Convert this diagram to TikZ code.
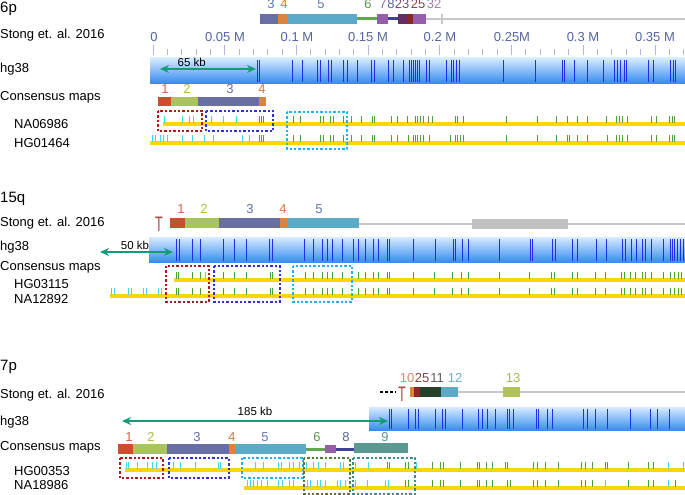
\documentclass[tikz,border=0pt]{standalone}
\usepackage{fontspec}
\setmainfont{Liberation Sans}
\usetikzlibrary{arrows.meta}

\definecolor{segred}{RGB}{200,80,45}
\definecolor{seggreen}{RGB}{168,195,95}
\definecolor{seglime}{RGB}{175,195,90}
\definecolor{segslate}{RGB}{105,110,165}
\definecolor{segorange}{RGB}{225,130,60}
\definecolor{segblue}{RGB}{90,170,200}
\definecolor{segsix}{RGB}{100,165,80}
\definecolor{segpurple}{RGB}{150,95,170}
\definecolor{segnavy}{RGB}{60,65,150}
\definecolor{segteal}{RGB}{90,155,145}
\definecolor{segplum}{RGB}{100,45,100}
\definecolor{segdarkred}{RGB}{140,40,35}
\definecolor{segdark}{RGB}{40,65,45}
\definecolor{seggray}{RGB}{192,192,192}
\definecolor{labone}{RGB}{210,100,75}
\definecolor{labtwo}{RGB}{170,190,70}
\definecolor{labthree}{RGB}{100,110,170}
\definecolor{labfour}{RGB}{220,120,60}
\definecolor{labfive}{RGB}{100,120,180}
\definecolor{labsix}{RGB}{90,150,80}
\definecolor{labseven}{RGB}{140,100,150}
\definecolor{labeight}{RGB}{90,100,150}
\definecolor{labnine}{RGB}{90,150,145}
\definecolor{labten}{RGB}{225,130,110}
\definecolor{labeleven}{RGB}{90,90,90}
\definecolor{labtwelve}{RGB}{110,175,210}
\definecolor{labthirteen}{RGB}{165,185,75}
\definecolor{labtwentythree}{RGB}{120,80,120}
\definecolor{labtwentyfive}{RGB}{130,70,70}
\definecolor{labthirtytwo}{RGB}{160,130,175}
\definecolor{telored}{RGB}{170,70,70}
\definecolor{scaleblue}{RGB}{85,100,160}
\definecolor{scaletickc}{RGB}{180,180,220}
\definecolor{barlight}{RGB}{215,235,255}
\definecolor{bardark}{RGB}{55,140,240}
\definecolor{siteblue}{RGB}{35,45,235}
\definecolor{trackyellow}{RGB}{255,215,0}
\definecolor{tickcyan}{RGB}{70,215,230}
\definecolor{tickgreen}{RGB}{80,160,60}
\definecolor{arrowteal}{RGB}{20,155,120}
\definecolor{backbonegray}{RGB}{200,200,200}
\definecolor{boxred}{RGB}{175,25,25}
\definecolor{boxblue}{RGB}{50,50,210}
\definecolor{boxcyan}{RGB}{30,180,240}
\definecolor{boxgreen}{RGB}{80,125,45}
\definecolor{boxteal}{RGB}{60,140,140}

\begin{document}
\begin{tikzpicture}[x=1pt,y=-1pt]
  \tikzset{>={Stealth[length=9pt,width=8pt]},
    rowlabel/.style={anchor=base west, inner sep=0pt, font=\fontsize{13}{15}\selectfont},
    chrlabel/.style={anchor=base west, inner sep=0pt, font=\fontsize{15}{17}\selectfont},
    seglabel/.style={anchor=base, inner sep=0pt, font=\fontsize{13}{15}\selectfont},
    scalelabel/.style={anchor=base, inner sep=0pt, scaleblue, font=\fontsize{13}{15}\selectfont},
    kblabel/.style={inner sep=1pt, black, font=\fontsize{11.5}{13}\selectfont},
    hgbar/.style={top color=barlight, bottom color=bardark},
    site/.style={siteblue, line width=0.9pt},
    track/.style={trackyellow, line width=3.5pt},
    cyantick/.style={tickcyan, line width=0.9pt},
    greentick/.style={tickgreen, line width=0.9pt},
    scaletick/.style={scaletickc, line width=0.8pt},
    backbone/.style={backbonegray, line width=2pt},
    kbarrow/.style={<->, arrowteal, line width=2.5pt},
    region/.style={line width=2.5pt, dash pattern=on 2.4pt off 2pt},
    telomere/.style={telored, font=\fontsize{21}{21}\selectfont, xscale=0.6, inner sep=0pt, anchor=base}
  }
  \useasboundingbox (0,0) rectangle (685,495);

  % 6p
  \node[chrlabel] (chr-6p) at (0,13) {6p};
  \node[rowlabel] (stong-6p) at (0,39) {Stong et. al. 2016};
  \node[rowlabel] (hg-6p) at (0,72) {hg38};
  \node[rowlabel] (consensus-6p) at (0,100) {Consensus maps};
  \node[rowlabel] (na06986) at (14,128) {NA06986};
  \node[rowlabel] (hg01464) at (14,147) {HG01464};
  % 6p segments from Stong et al
  \draw[backbone] (426,19) -- (685,19);
  \draw[backbone] (442,14) -- (442,24);
  \fill[segslate] (260,14) rectangle (278,24);
  \fill[segorange] (278,14) rectangle (287,24);
  \fill[segblue] (287,14) rectangle (357,24);
  \draw[segsix, line width=3pt] (357,19) -- (377,19);
  \fill[segpurple] (377,14) rectangle (388,24);
  \draw[segnavy, line width=3pt] (388,19) -- (398,19);
  \fill[segplum] (398,14) rectangle (407,24);
  \fill[segdarkred] (407,14) rectangle (413,24);
  \fill[segpurple] (413,14) rectangle (426,24);
  \node[seglabel, labthree] (s6-3) at (271,9) {3};
  \node[seglabel, labfour] (s6-4) at (284,9) {4};
  \node[seglabel, labfive] (s6-5) at (321,9) {5};
  \node[seglabel, labsix] (s6-6) at (368,9) {6};
  \node[seglabel, labseven] (s6-7) at (383,9) {7};
  \node[seglabel, labeight] (s6-8) at (391,9) {8};
  \node[seglabel, labtwentythree] (s6-23) at (402,9) {23};
  \node[seglabel, labtwentyfive] (s6-25) at (418,9) {25};
  \node[seglabel, labthirtytwo] (s6-32) at (434,9) {32};
  % 6p scale
  \foreach \i in {0,...,37}
    \draw[scaletick] ({153+14.34*\i},49) -- ++(0,6);
  \foreach \i in {0,...,7}
    \draw[scaletick] ({153+71.7*\i},45) -- ++(0,10);
  \node[scalelabel] (m-0) at (154,42) {0};
  \node[scalelabel] (m-005) at (225,42) {0.05 M};
  \node[scalelabel] (m-01) at (297,42) {0.1 M};
  \node[scalelabel] (m-015) at (368,42) {0.15 M};
  \node[scalelabel] (m-02) at (440,42) {0.2 M};
  \node[scalelabel] (m-025) at (512,42) {0.25M};
  \node[scalelabel] (m-03) at (583,42) {0.3 M};
  \node[scalelabel] (m-035) at (655,42) {0.35 M};
  % 6p hg38
  \shade[hgbar] (150,58) rectangle (685,83);
  \foreach \x in {257,259,292,302,317,320,328,331,343,347,357,371,374,388,393,403,409,411,413,415,417,419,426,429,446,451,453,456,459,503,535,562,564,574,587,603,614,617,620,624,626,648,653,670,673,675}
    \draw[site] (\x,60) -- (\x,82);
  \coordinate (kb65-left) at (160,69);
  \coordinate (kb65-right) at (256,69);
  \draw[kbarrow] (kb65-left) -- (kb65-right) node[kblabel, pos=0.33, above=0.5pt] (kb65) {65 kb};
  % 6p consensus
  \fill[segred] (158,97) rectangle (171,106);
  \fill[seggreen] (171,97) rectangle (198,106);
  \fill[segslate] (198,97) rectangle (259,106);
  \fill[segorange] (259,97) rectangle (266,106);
  \node[seglabel, labone] (c6-1) at (165,93) {1};
  \node[seglabel, labtwo] (c6-2) at (187,93) {2};
  \node[seglabel, labthree] (c6-3) at (230,93) {3};
  \node[seglabel, labfour] (c6-4) at (262,93) {4};
  \draw[track] (163,124) -- (685,124);
  \foreach \x in {164,182,189,193,211,223,236}
    \draw[cyantick] (\x,116) -- (\x,123);
  \foreach \x in {259,261,263,293,300,320,323,330,333,343,351,361,372,374,391,397,407,415,417,420,423,428,432,455,457,463,506,537,556,567,577,587,606,616,619,622,627,651,656,669,672,674}
    \draw[greentick] (\x,116) -- (\x,123);
  \draw[track] (150,143) -- (685,143);
  \foreach \x in {152,155,160,163,167,182,192,204,213,242,249}
    \draw[cyantick] (\x,135) -- (\x,142);
  \foreach \x in {259,261,263,293,300,320,323,330,333,343,351,361,372,374,391,397,408,413,415,417,420,423,429,450,455,457,460,463,506,537,556,567,569,577,587,607,616,619,622,627,651,656,669,672,674}
    \draw[greentick] (\x,135) -- (\x,142);
  \draw[region, boxred] (158,111) rectangle (202,131);
  \draw[region, boxblue] (206,111) rectangle (273,131);
  \draw[region, boxcyan] (287,112) rectangle (347,149);

  % 15q
  \node[chrlabel] (chr-15q) at (0,202) {15q};
  \node[rowlabel] (stong-15q) at (0,226) {Stong et. al. 2016};
  \node[rowlabel] (hg-15q) at (0,250) {hg38};
  \node[rowlabel] (consensus-15q) at (0,270) {Consensus maps};
  \node[rowlabel] (hg03115) at (14,288) {HG03115};
  \node[rowlabel] (na12892) at (14,303) {NA12892};
  % 15q segments from Stong et al
  \node[telomere] (telo-15q) at (159,231) {T};
  \draw[backbone] (359,224) -- (685,224);
  \fill[seggray] (472,219) rectangle (568,229);
  \fill[segred] (170,218) rectangle (185,228);
  \fill[seggreen] (185,218) rectangle (219,228);
  \fill[segslate] (219,218) rectangle (280,228);
  \fill[segorange] (280,218) rectangle (288,228);
  \fill[segblue] (288,218) rectangle (359,228);
  \node[seglabel, labone] (s15-1) at (181,213) {1};
  \node[seglabel, labtwo] (s15-2) at (204,213) {2};
  \node[seglabel, labthree] (s15-3) at (250,213) {3};
  \node[seglabel, labfour] (s15-4) at (283,213) {4};
  \node[seglabel, labfive] (s15-5) at (319,213) {5};
  % 15q hg38
  \shade[hgbar] (149,237) rectangle (685,262);
  \foreach \x in {176,179,192,200,223,234,246,269,272,304,313,322,327,332,342,353,358,365,373,378,387,389,413,435,453,455,462,468,499,530,532,552,555,572,577,596,606,622,625,631,636,642,645,651,663,670,672,674,677,680,683}
    \draw[site] (\x,239) -- (\x,261);
  \coordinate (kb50-left) at (100,252);
  \coordinate (kb50-right) at (173,252);
  \draw[kbarrow] (kb50-left) -- (kb50-right) node[kblabel, pos=0.48, above=0pt] (kb50) {50 kb};
  % 15q consensus
  \draw[track] (174,280) -- (685,280);
  \draw[cyantick] (205,272) -- (205,279);
  \foreach \x in {176,178,192,200,223,234,246,270,272,305,313,322,327,332,342,358,365,373,378,387,389,413,434,452,461,468,499,529,551,554,572,577,595,605,621,624,630,635,642,645,651,663,670,674,678,681}
    \draw[greentick] (\x,272) -- (\x,279);
  \draw[track] (110,296) -- (685,296);
  \foreach \x in {111,114,128,131,143,146,158,161}
    \draw[cyantick] (\x,288) -- (\x,295);
  \foreach \x in {176,178,192,200,223,234,246,270,272,305,313,322,327,332,342,358,365,373,378,387,389,413,434,452,461,468,499,529,551,554,572,577,595,605,621,624,630,635,642,645,651,663,670,674,678,681}
    \draw[greentick] (\x,288) -- (\x,295);
  \draw[region, boxred] (166,266) rectangle (209,302);
  \draw[region, boxblue] (214,266) rectangle (280,302);
  \draw[region, boxcyan] (293,266) rectangle (352,302);

  % 7p
  \node[chrlabel] (chr-7p) at (0,370) {7p};
  \node[rowlabel] (stong-7p) at (0,398) {Stong et. al. 2016};
  \node[rowlabel] (hg-7p) at (0,425) {hg38};
  \node[rowlabel] (consensus-7p) at (0,450) {Consensus maps};
  \node[rowlabel] (hg00353) at (14,475) {HG00353};
  \node[rowlabel] (na18986) at (14,489) {NA18986};
  % 7p segments from Stong et al
  \draw[black, line width=2pt, dash pattern=on 3pt off 2pt] (380,392) -- (396,392);
  \draw[backbone] (458,392) -- (685,392);
  \fill[seglime] (503,387) rectangle (520,397);
  \fill[segorange] (410,387) rectangle (414,397);
  \fill[segdarkred] (414,387) rectangle (420,397);
  \fill[segdark] (420,387) rectangle (441,397);
  \fill[segblue] (441,387) rectangle (458,397);
  \node[telomere] (telo-7p) at (402,401) {T};
  \node[seglabel, labten] (s7-10) at (407,382) {10};
  \node[seglabel, labtwentyfive] (s7-25) at (422,382) {25};
  \node[seglabel, labeleven] (s7-11) at (437,382) {11};
  \node[seglabel, labtwelve] (s7-12) at (455,382) {12};
  \node[seglabel, labthirteen] (s7-13) at (513,382) {13};
  % 7p hg38
  \shade[hgbar] (369,407) rectangle (685,430);
  \foreach \x in {389,391,408,415,418,435,442,445,462,478,482,487,495,507,509,513,536,538,547,552,583,587,595,607,630,650,657,669}
    \draw[site] (\x,409) -- (\x,429);
  \coordinate (kb185-left) at (122,421);
  \coordinate (kb185-right) at (388,421);
  \draw[kbarrow] (kb185-left) -- (kb185-right) node[kblabel, midway, above=3pt] (kb185) {185 kb};
  % 7p consensus
  \fill[segred] (118,444) rectangle (133,454);
  \fill[seggreen] (133,444) rectangle (167,454);
  \fill[segslate] (167,444) rectangle (229,454);
  \fill[segorange] (229,444) rectangle (236,454);
  \fill[segblue] (236,444) rectangle (306,454);
  \draw[segsix, line width=3pt] (306,449) -- (325,449);
  \fill[segpurple] (325,445) rectangle (336,453);
  \draw[segnavy, line width=3pt] (336,449) -- (354,449);
  \fill[segteal] (354,443) rectangle (408,453);
  \node[seglabel, labone] (c7-1) at (129,441) {1};
  \node[seglabel, labtwo] (c7-2) at (151,441) {2};
  \node[seglabel, labthree] (c7-3) at (197,441) {3};
  \node[seglabel, labfour] (c7-4) at (232,441) {4};
  \node[seglabel, labfive] (c7-5) at (265,441) {5};
  \node[seglabel, labsix] (c7-6) at (317,441) {6};
  \node[seglabel, labeight] (c7-8) at (346,441) {8};
  \node[seglabel, labnine] (c7-9) at (385,441) {9};
  \draw[track] (125,470) -- (685,470);
  \foreach \x in {126,128,137,147,152,156,173,180,195,218,220,255,263,278,281,289,293,299,306,313,318,325,340,343,355,368,416,668,683}
    \draw[cyantick] (\x,462) -- (\x,469);
  \foreach \x in {387,389,405,408,432,440,443,460,477,479,486,492,505,507,533,537,545,558,581,585,592,605,607,628,648,653}
    \draw[greentick] (\x,462) -- (\x,469);
  \draw[track] (244,488) -- (685,488);
  \foreach \x in {247,250,253,257,261,267,278,282,289,293,307,310,317,320,325,337,340,345,355,367,385,388,605,668}
    \draw[cyantick] (\x,480) -- (\x,487);
  \foreach \x in {405,408,432,440,443,460,477,479,486,492,507,510,533,537,545,558,581,585,592,628,648,653,675}
    \draw[greentick] (\x,480) -- (\x,487);
  \draw[region, boxred] (120,458) rectangle (163,478);
  \draw[region, boxblue] (169,458) rectangle (229,478);
  \draw[region, boxcyan] (242,458) rectangle (303,478);
  \draw[region, boxgreen] (304,458) rectangle (350,494);
  \draw[region, boxteal] (353,458) rectangle (415,494);
\end{tikzpicture}
\end{document}
